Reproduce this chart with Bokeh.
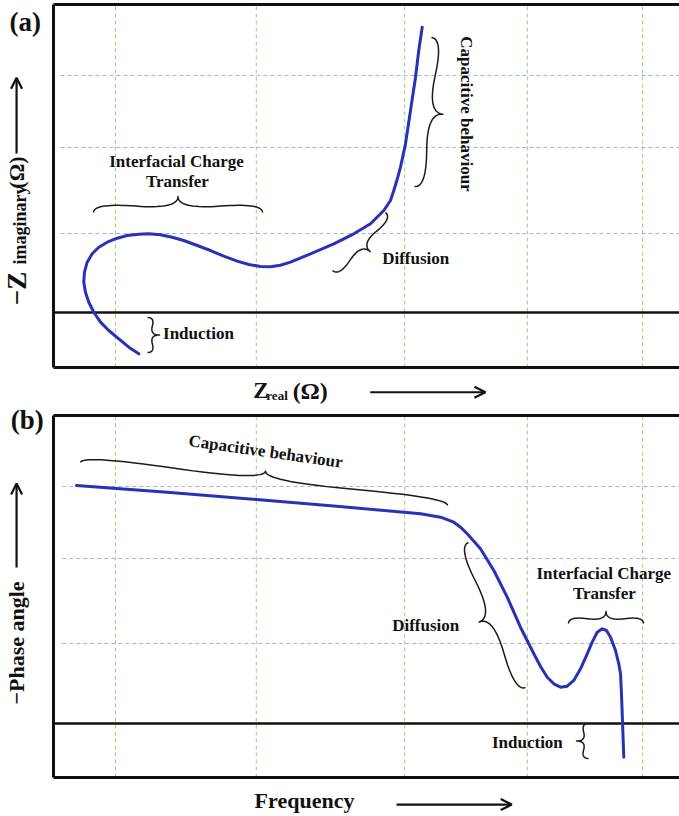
import numpy as np
from bokeh.plotting import figure
from bokeh.models import Range1d, Label, Arrow, OpenHead
from bokeh.layouts import column
from bokeh.embed import file_html
from bokeh.resources import INLINE

# ---------------- data (schematic) ----------------
# (a) Nyquist plot
z_real = [13.63, 12.03, 10.43, 8.83, 7.51, 6.44, 5.64, 5.11, 4.84, 4.95, 5.38,
          6.18, 7.24, 8.58, 10.18, 11.77, 13.63, 15.22, 17.09, 18.96, 20.81,
          22.96, 25.08, 27.2, 29.35, 31.2, 33.07, 34.66, 36.26, 37.86, 41.05,
          44.78, 47.97, 50.64, 52.76, 53.83, 54.36, 55.0, 55.43, 56.23, 57.03,
          57.83, 58.35, 58.9]
z_imag = [-7.51, -6.31, -4.78, -3.27, -1.76, 0.05, 1.87, 3.69, 5.51, 7.33, 9.15,
          10.67, 11.87, 12.78, 13.51, 14.0, 14.24, 14.31, 14.13, 13.69, 13.09,
          12.18, 11.27, 10.24, 9.33, 8.73, 8.36, 8.31, 8.6, 9.15, 10.67,
          12.49, 14.31, 16.13, 18.55, 20.36, 22.18, 24.6, 26.42, 30.67, 36.73,
          42.78, 47.64, 51.87]

# (b) Bode phase plot
freq = [3.67, 18.16, 32.43, 45.69, 58.63, 61.82, 63.95, 65.02, 66.09, 68.21,
        70.34, 72.48, 74.6, 76.73, 77.8, 78.87, 79.92, 80.99, 82.06, 83.11,
        84.19, 85.26, 86.05, 86.85, 87.65, 88.34, 88.98, 89.78, 90.3, 90.58,
        90.73, 90.85, 91.1]
phase = [80.4, 78.14, 75.68, 73.31, 70.85, 69.7, 68.0, 66.32, 64.09, 59.02,
         51.69, 42.67, 32.53, 23.55, 19.26, 15.64, 13.41, 12.26, 12.6, 14.53,
         18.48, 23.55, 27.47, 30.84, 31.99, 31.42, 29.16, 24.66, 20.17, 16.79,
         10.03, 3.28, -11.39]

# grid positions
grid_x = [9.9, 32.4, 56.1, 75.7, 94.1]
grid_y_a = [14.36, 30.0, 43.1]
grid_y_b = [27.03, 55.74, 80.07]

# ---------------- styling ----------------
FONT = "Liberation Serif"
CURVE = "#2832b4"
VGRID = "#9fcf8a"
HGRID = "#a4b2d8"
INK = "#111111"
W = 679
X_RANGE = (-8.466, 100)


def make_fig(height, y0, y1):
    p = figure(width=W, height=height, x_range=Range1d(*X_RANGE),
               y_range=Range1d(y0, y1), output_backend="svg",
               toolbar_location=None, min_border=0,
               x_axis_location=None, y_axis_location=None)
    p.xgrid.visible = False
    p.ygrid.visible = False
    p.outline_line_color = None
    p.background_fill_color = "white"
    p.border_fill_color = "white"
    return p


def frame(p, bottom, top, gy, hx0):
    p.segment(x0=grid_x, x1=grid_x, y0=[bottom] * len(grid_x), y1=[top] * len(grid_x),
              line_color=VGRID, line_dash="4 3", line_width=1)
    p.segment(x0=[hx0] * len(gy), x1=[X_RANGE[1]] * len(gy), y0=gy, y1=gy,
              line_color=HGRID, line_dash="4 3", line_width=1)
    p.segment(x0=[0, 0, 0], x1=[X_RANGE[1]] * 3, y0=[top, bottom, 0], y1=[top, bottom, 0],
              line_color=INK, line_width=[2.8, 2.8, 2.5])
    p.segment(x0=[0], x1=[0], y0=[bottom], y1=[top], line_color=INK, line_width=3)


def brace(p, p1, p2, w, sx, sy, q=0.6, n=18):
    a = np.array([p1[0] * sx, p1[1] * sy])
    b = np.array([p2[0] * sx, p2[1] * sy])
    d = b - a
    L = np.hypot(*d)
    u = d / L
    nv = np.array([-u[1], u[0]])

    def quad(P0, C, P1):
        t = np.linspace(0, 1, n)[:, None]
        return (1 - t) ** 2 * P0 + 2 * t * (1 - t) * C + t ** 2 * P1

    tip = a + 0.5 * L * u + w * nv
    c1 = a + q * w * nv
    m1 = a + 0.25 * L * u + (1 - q) * w * nv
    c2 = 2 * m1 - c1
    c3 = b + q * w * nv
    m2 = a + 0.75 * L * u + (1 - q) * w * nv
    c4 = 2 * m2 - c3
    pts = np.vstack([quad(a, c1, m1), quad(m1, c2, tip), quad(tip, c4, m2), quad(m2, c3, b)])
    p.line(pts[:, 0] / sx, pts[:, 1] / sy, line_color="#1a1a1a", line_width=1.5,
           line_join="round")


def label(p, x, y, text, size, align="center", angle=0.0, baseline="middle"):
    p.add_layout(Label(x=x, y=y, text=text, text_font=FONT, text_font_style="bold",
                       text_font_size=size, text_align=align, text_baseline=baseline,
                       angle=angle, text_color=INK))


def arrow(p, x0, y0, x1, y1):
    p.add_layout(Arrow(end=OpenHead(size=11, line_width=2.2, line_color=INK),
                       x_start=x0, y_start=y0, x_end=x1, y_end=y1,
                       line_width=2.2, line_color=INK))


SX = W / (X_RANGE[1] - X_RANGE[0])

# ---------------- panel (a) ----------------
HA = 405
pa = make_fig(HA, -16.91, 56.727)
SYA = HA / (56.727 + 16.91)
frame(pa, -10.0, 56.0, grid_y_a, 1.1)
pa.line(z_real, z_imag, line_color=CURVE, line_width=3, line_join="round", line_cap="round")

brace(pa, (6.39, 18.18), (33.39, 18.18), 16, SX, SYA)
brace(pa, (15.02, -0.91), (15.02, -7.27), 12, SX, SYA)
brace(pa, (53.04, 18.18), (44.57, 7.64), 15, SX, SYA)
brace(pa, (60.38, 50.0), (57.67, 22.91), 20, SX, SYA)

label(pa, 19.65, 27.5, "Interfacial Charge", "17px")
label(pa, 19.8, 23.8, "Transfer", "17px")
label(pa, 17.5, -3.8, "Induction", "17px", align="left")
label(pa, 52.5, 9.8, "Diffusion", "17px", align="left")
label(pa, 65.9, 36.1, "Capacitive behaviour", "17px", angle=-np.pi / 2)

label(pa, -4.5, 52.9, "(a)", "27px")
label(pa, -5.9, 4.36, "\u2212Z", "27px", angle=np.pi / 2)
label(pa, -5.35, 15.9, "imaginary", "18px", angle=np.pi / 2)
label(pa, -5.9, 25.45, "(\u03a9)", "22px", angle=np.pi / 2)
arrow(pa, -5.9, 28.9, -5.9, 42.7)

label(pa, 31.9, -14.2, "Z", "23px", align="left")
label(pa, 34.0, -15.1, "real", "13px", align="left")
label(pa, 38.2, -14.2, "(\u03a9)", "24px", align="left")
arrow(pa, 50.6, -14.5, 69.0, -14.5)

# ---------------- panel (b) ----------------
HB = 816 - HA
pb = make_fig(HB, -31.42, 107.43)
SYB = HB / (107.43 + 31.42)
frame(pb, -18.24, 104.05, grid_y_b, 1.4)
pb.line(freq, phase, line_color=CURVE, line_width=3, line_join="round", line_cap="round")

brace(pb, (4.31, 88.18), (62.94, 73.65), 13, SX, SYB)
brace(pb, (75.4, 12.16), (66.29, 61.15), 19, SX, SYB)
brace(pb, (82.27, 33.78), (94.25, 33.78), 12, SX, SYB)
brace(pb, (85.46, -11.82), (85.46, 0.0), 12, SX, SYB)

label(pb, 33.9, 91.9, "Capacitive behaviour", "17px", angle=-0.14)
label(pb, 54.1, 33.1, "Diffusion", "17px", align="left")
label(pb, 87.9, 50.7, "Interfacial Charge", "17px")
label(pb, 88.0, 43.9, "Transfer", "17px")
label(pb, 75.7, -6.4, "Induction", "17px")

label(pb, -4.2, 102.7, "(b)", "27px")
label(pb, -5.9, 27.2, "\u2212Phase angle", "22px", angle=np.pi / 2)
arrow(pb, -5.9, 52.7, -5.9, 81.1)
label(pb, 40.1, -26.0, "Frequency", "22px")
arrow(pb, 54.8, -27.4, 73.2, -27.4)

layout = column(pa, pb, spacing=0)
open("out.html", "w").write(file_html(layout, INLINE))
